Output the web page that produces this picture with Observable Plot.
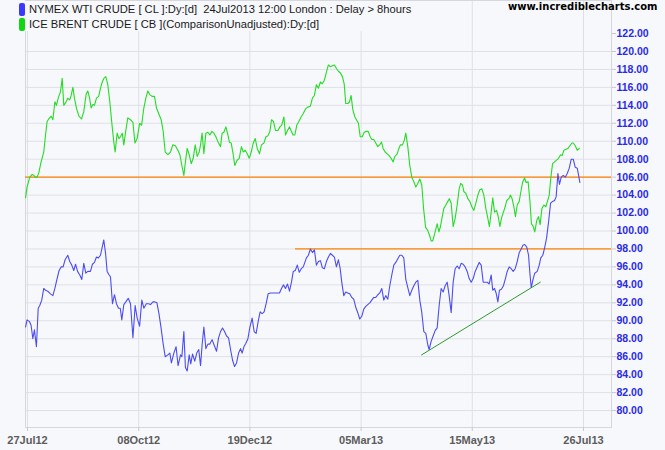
<!DOCTYPE html>
<html><head><meta charset="utf-8">
<script src="https://cdn.jsdelivr.net/npm/d3@7"></script>
<script src="https://cdn.jsdelivr.net/npm/@observablehq/plot@0.6"></script>
<style>
body{margin:0;background:#f7f8fc;}
#wrap{position:relative;width:665px;height:450px;overflow:hidden;background:#f7f8fc;}
#legend{position:absolute;left:0;top:1px;width:418px;height:30px;background:#f7f8fc;font-family:"Liberation Sans",Arial,sans-serif;font-size:11.2px;color:#1a1a1a;}
.row{position:absolute;left:19px;white-space:pre;display:flex;align-items:center;height:14px}
.sw{width:6px;height:13px;border-radius:2px;margin-right:4px;flex:none}
#brand{position:absolute;left:508px;top:1px;font:bold 10px "DejaVu Sans",sans-serif;color:#000;white-space:pre}
</style></head>
<body><div id="wrap"><div id="chart"></div>
<div id="legend"></div>
<div id="brand">www.incrediblecharts.com</div>
</div>
<script>
// ---- data (x = trading-day number from 26Jul12, y = price) ----
const legendNames = ["NYMEX WTI CRUDE [ CL ]:Dy:[d]  24Jul2013 12:00 London : Delay > 8hours",
                     "ICE BRENT CRUDE [ CB ](ComparisonUnadjusted):Dy:[d]"];
const tickBars = [1, 51, 101, 151, 201, 251];
const tickLabels = ["27Jul12", "08Oct12", "19Dec12", "05Mar13", "15May13", "26Jul13"];
const yTicks = d3.range(80, 123, 2);
const gridLevels = d3.range(80, 121, 2);
const resistance = 106;
const support = {from: 121.5, level: 98};
const trend = [[178.2, 86.2], [231.6, 94.3]];

const wti = [[0.1,89.3],[0.8,90.1],[1.9,89.9],[2.6,89.5],[3.4,88.0],[4.1,89.0],[5.0,87.1],[5.8,91.4],[6.5,91.7],[7.4,92.3],
[8.3,93.6],[9.1,93.4],[10.1,93.3],[11.3,93.0],[12.4,92.8],[13.3,93.6],[14.3,94.7],[15.2,95.6],[16.1,96.0],[17.0,96.0],
[17.9,96.8],[19.1,97.3],[20.0,96.6],[20.9,96.2],[21.8,95.6],[22.6,96.3],[23.5,95.5],[24.5,95.1],[25.4,94.6],[26.3,96.4],
[27.2,95.3],[28.1,95.5],[29.3,95.5],[30.2,96.3],[31.1,96.5],[32.0,97.1],[32.9,97.0],[33.8,97.3],[34.6,98.2],[35.3,99.0],
[36.1,97.5],[36.8,95.5],[37.7,95.1],[38.3,94.9],[39.2,91.9],[40.1,92.9],[41.0,91.9],[41.9,91.4],[42.7,91.4],[43.4,90.1],
[44.3,91.8],[45.2,92.1],[46.3,92.5],[47.3,91.9],[48.4,88.1],[49.4,91.7],[50.3,90.3],[51.4,89.4],[52.4,92.3],[53.3,91.4],
[54.4,91.9],[55.4,91.9],[56.3,91.8],[57.4,92.1],[58.3,92.1],[59.2,92.0],[60.1,90.8],[61.0,89.3],[61.9,87.6],[62.9,86.0],
[64.1,86.2],[65.0,86.4],[65.7,85.3],[66.8,86.4],[67.8,87.1],[68.7,85.0],[69.8,86.2],[70.4,86.0],[71.3,88.8],[72.0,84.8],
[72.8,84.4],[73.7,86.2],[74.4,85.2],[75.2,86.3],[76.2,85.5],[77.1,86.4],[78.0,86.8],[78.8,85.0],[79.5,87.3],[80.3,89.3],
[81.2,86.9],[82.1,87.4],[83.0,87.4],[84.0,87.9],[84.9,87.3],[86.0,86.6],[86.9,88.1],[87.8,88.8],[88.7,89.2],[89.6,88.8],
[90.5,88.3],[91.4,88.1],[92.3,86.8],[93.2,85.6],[94.1,84.9],[95.0,85.3],[95.9,86.4],[96.8,86.9],[97.5,86.4],[98.3,87.1],
[99.2,87.5],[100.1,88.0],[101.0,89.3],[102.0,90.3],[102.9,88.8],[103.8,88.6],[104.7,89.9],[105.6,91.0],[106.5,90.8],[107.4,91.0],
[108.3,91.9],[109.2,93.0],[110.3,93.1],[111.2,93.1],[112.1,93.1],[113.3,93.1],[114.3,93.1],[115.2,93.6],[116.1,94.0],[117.0,93.6],
[117.9,94.1],[118.8,93.3],[119.7,94.3],[120.5,95.5],[121.4,95.6],[122.3,96.2],[123.2,95.4],[124.1,95.8],[125.0,96.0],
[126.4,97.0],[127.3,97.3],[128.2,98.0],[129.1,97.6],[130.0,97.9],[130.9,96.2],[131.8,96.6],[132.7,96.7],[133.6,95.9],[134.5,95.8],
[135.4,96.6],[136.3,97.1],[137.2,97.5],[138.1,97.3],[139.0,97.1],[139.9,96.0],[140.8,96.8],[141.6,95.8],[142.3,94.3],[143.2,92.8],
[144.1,93.2],[145.0,93.1],[145.9,93.0],[146.8,92.6],[147.7,92.4],[148.6,91.5],[149.5,90.9],[150.4,90.2],[151.3,90.5],[152.2,91.3],
[153.1,91.6],[154.0,91.8],[154.9,92.0],[155.8,92.3],[156.7,92.6],[157.6,92.6],[158.5,92.9],[159.4,93.1],[160.3,93.6],[161.2,92.3],
[162.1,92.8],[163.0,92.4],[163.9,93.9],[164.8,95.1],[165.7,96.2],[166.6,96.5],[167.5,96.9],[168.4,97.3],[169.3,97.3],[170.2,97.0],
[171.1,94.6],[172.0,93.7],[172.9,92.8],[173.8,93.4],[174.7,93.9],[175.6,94.3],[176.5,94.5],[177.4,92.3],[178.3,90.9],[179.2,88.8],
[180.1,88.6],[181.0,87.3],[181.6,86.8],[182.5,87.7],[183.4,88.3],[184.3,88.9],[185.2,89.2],[186.1,91.7],[187.0,93.6],[187.9,93.2],
[188.8,93.9],[189.7,94.3],[190.6,92.8],[191.5,90.9],[192.4,94.3],[193.3,95.8],[194.2,96.1],[195.1,95.8],[196.0,96.4],[196.9,96.3],
[197.8,96.0],[198.7,95.5],[199.6,94.7],[200.5,94.3],[201.4,94.7],[202.3,95.5],[203.2,96.0],[204.1,96.5],[205.0,96.2],[205.9,94.3],
[206.8,94.3],[207.7,94.3],[208.6,94.1],[209.5,95.1],[210.2,93.4],[211.0,93.6],[211.7,93.1],[212.5,92.1],[213.2,93.4],[214.1,93.5],
[215.0,93.9],[215.9,94.7],[216.7,95.5],[217.6,96.0],[218.5,95.8],[219.4,95.5],[220.3,95.8],[221.2,96.6],[222.1,97.6],[223.0,98.0],
[223.7,98.4],[224.6,98.5],[225.5,98.2],[226.3,97.3],[226.9,95.3],[227.5,93.7],[228.4,94.7],[229.1,95.3],[230.2,95.5],[231.1,96.2],
[231.8,97.0],[232.7,97.3],[233.5,98.1],[234.4,99.2],[235.3,101.0],[236.2,103.1],[237.1,103.3],[238.0,103.4],[238.7,103.8],[239.5,106.4],
[240.2,105.2],[241.0,106.0],[241.9,106.2],[242.8,106.0],[243.7,106.4],[244.6,107.0],[245.5,108.0],[246.4,108.0],[247.3,107.1],[248.2,107.0],
[249.4,105.4]];

const brent = [[0.1,103.7],[0.8,104.9],[2.0,106.0],[3.1,106.3],[3.8,106.2],[4.6,106.0],[5.3,106.0],[6.1,106.5],[7.1,107.7],[8.3,108.8],
[9.1,110.7],[9.8,112.2],[10.6,112.5],[11.6,112.8],[12.4,112.4],[13.3,114.4],[14.0,114.0],[14.8,114.8],[15.8,115.5],[16.6,117.0],
[17.3,114.0],[18.2,114.3],[19.1,114.8],[20.0,114.6],[20.6,115.1],[21.4,116.0],[22.1,114.8],[23.0,113.7],[24.1,112.8],[25.3,112.5],
[26.3,113.3],[27.4,115.3],[28.1,115.6],[28.9,114.8],[29.6,113.7],[30.4,114.1],[31.1,114.0],[32.0,114.8],[33.0,115.0],[33.8,115.9],
[34.6,116.6],[35.3,117.0],[36.2,117.2],[37.1,116.3],[38.0,114.4],[39.0,111.8],[39.8,109.9],[40.4,108.8],[41.3,110.9],[42.1,110.3],
[42.8,110.5],[43.6,110.9],[44.3,109.6],[45.2,111.2],[46.1,112.6],[47.3,112.4],[48.4,112.1],[49.3,109.8],[50.3,110.3],[51.4,112.0],
[52.3,111.8],[53.3,113.7],[54.2,114.8],[55.1,115.6],[56.0,115.2],[57.0,115.0],[58.1,115.0],[59.0,113.7],[60.1,113.0],[61.1,112.4],
[62.0,111.1],[62.9,108.8],[64.1,108.5],[65.3,108.8],[66.3,109.6],[67.5,109.5],[68.6,109.0],[69.5,108.5],[70.4,107.3],[71.3,106.2],
[72.0,107.7],[72.8,109.2],[73.7,108.5],[74.6,107.5],[75.5,108.1],[76.4,109.6],[77.3,108.3],[78.2,108.8],[78.8,109.6],[79.5,110.9],
[80.3,108.6],[81.2,110.9],[82.1,111.0],[83.0,110.7],[83.9,111.1],[84.8,110.9],[85.7,110.5],[86.7,109.9],[87.8,109.4],[88.5,110.9],
[89.3,111.0],[90.2,111.6],[91.1,110.7],[91.8,109.9],[92.6,109.8],[93.5,108.5],[94.2,107.3],[95.3,107.9],[96.2,108.1],[97.2,109.4],
[98.0,108.8],[98.9,109.0],[99.8,108.6],[100.7,108.1],[101.6,108.8],[102.5,109.8],[103.4,110.3],[104.3,109.2],[105.3,108.6],[106.2,109.6],
[107.3,109.8],[108.2,110.5],[109.1,110.6],[110.0,111.1],[110.7,112.4],[111.6,112.2],[112.5,111.2],[113.6,111.2],[114.5,111.6],[115.3,111.8],
[116.3,112.7],[117.0,110.7],[117.9,111.2],[118.8,111.6],[119.5,111.2],[120.4,110.7],[121.2,110.7],[122.1,111.8],[123.0,112.2],[124.0,112.7],
[125.0,113.1],[126.0,113.6],[127.0,113.8],[128.2,113.9],[129.1,114.8],[130.0,115.1],[130.9,116.3],[131.8,115.9],[132.7,116.6],[133.5,116.4],
[134.5,116.8],[135.4,117.7],[136.3,118.5],[137.2,118.3],[138.1,118.4],[139.0,118.5],[139.9,118.1],[140.8,117.8],[141.7,117.6],[142.6,117.2],
[143.4,116.4],[144.1,114.2],[145.0,114.2],[145.8,114.4],[146.5,115.1],[147.3,113.5],[148.2,112.7],[148.9,112.4],[149.8,112.0],[150.6,110.5],
[151.5,110.5],[152.4,111.0],[153.3,111.1],[154.2,111.1],[155.1,110.5],[155.8,110.2],[156.7,110.2],[157.6,109.8],[158.5,109.4],[159.3,109.6],
[160.2,109.9],[160.9,109.2],[161.8,108.8],[162.7,108.6],[163.6,108.4],[164.5,108.1],[165.4,107.7],[166.2,108.3],[167.2,108.6],[168.0,109.2],
[168.7,109.6],[169.6,109.6],[170.4,110.1],[171.1,110.9],[172.0,109.4],[172.9,107.3],[173.8,106.0],[174.7,105.5],[175.6,104.9],[176.5,105.3],
[177.4,105.8],[178.3,105.1],[179.1,102.5],[180.0,100.4],[180.9,100.1],[181.8,99.5],[182.5,98.9],[183.2,98.9],[184.1,99.7],[185.2,100.8],
[186.0,99.9],[186.7,100.5],[187.4,101.5],[188.2,102.5],[189.1,102.9],[190.0,103.3],[190.7,103.6],[191.5,103.1],[192.4,100.5],[193.3,101.4],
[194.2,102.9],[195.1,104.7],[195.8,105.3],[196.6,105.1],[197.2,104.4],[198.1,104.2],[199.0,103.6],[199.9,103.3],[200.8,102.7],[201.7,102.3],
[202.6,103.1],[203.5,104.0],[204.4,104.6],[205.3,104.7],[206.2,104.0],[207.1,102.5],[208.0,101.4],[208.7,100.5],[209.5,102.1],[210.2,103.7],
[211.0,102.1],[211.9,102.3],[212.6,101.7],[213.4,100.5],[214.1,101.4],[215.0,102.1],[215.8,102.7],[216.5,103.4],[217.4,103.6],[218.2,104.0],
[218.9,103.6],[219.7,102.7],[220.4,101.6],[221.2,102.9],[222.1,103.3],[223.0,104.6],[223.7,105.5],[224.5,105.9],[225.2,105.4],[226.1,105.5],
[226.9,103.4],[227.6,100.8],[228.4,100.5],[229.1,99.9],[230.0,101.2],[230.8,101.6],[231.5,100.7],[232.3,102.5],[233.2,102.9],[234.1,102.7],
[234.8,103.3],[235.6,104.0],[236.3,105.9],[237.1,107.5],[238.0,107.7],[238.9,107.9],[239.8,108.1],[240.7,108.5],[241.4,108.4],[242.2,109.0],
[243.1,109.1],[244.0,109.2],[244.9,109.5],[245.8,109.8],[246.4,109.8],[247.3,109.5],[248.2,109.0],[249.1,109.2]];

const seriesColors = ["#4c4cf2", "#22dd22"];
const swatchColors = ["#3a3aff", "#10d810"];

// ---- chart ----
const xDom = [0.09, 263.6], yDom = [78.11, 125.68];
const labelOf = new Map(tickBars.map((b, i) => [b, tickLabels[i]]));
const font = "'Liberation Sans', Arial, sans-serif";

const chart = Plot.plot({
  width: 665, height: 450,
  marginLeft: 25, marginRight: 54, marginTop: 0, marginBottom: 23,
  style: {background: "transparent", fontFamily: font, overflow: "visible"},
  x: {domain: xDom, axis: null},
  y: {domain: yDom, axis: null},
  marks: [
    Plot.ruleY(gridLevels, {stroke: "#dfe0e6", strokeWidth: 1}),
    Plot.ruleX(tickBars, {y1: yDom[0], y2: yDom[1], stroke: "#dfe0e6", strokeWidth: 1}),
    Plot.frame({stroke: "#d6d7dd"}),
    Plot.axisY({anchor: "right", ticks: yTicks, tickFormat: d3.format(".2f"), tickSize: 4, tickPadding: 1,
      stroke: "#c8c9cf", fill: "#2a2ae6", fontWeight: "bold", fontSize: 10.5, label: null}),
    Plot.axisX({ticks: tickBars, tickFormat: d => labelOf.get(d), tickSize: 4, tickPadding: 5,
      stroke: "#c8c9cf", fill: "#5c5c5c", fontWeight: "bold", fontSize: 11, label: null}),
    Plot.ruleY([resistance], {stroke: "#ff8000", strokeWidth: 1.3}),
    Plot.ruleY([support.level], {x1: support.from, x2: xDom[1], stroke: "#ff8000", strokeWidth: 1.3}),
    Plot.line(trend, {x: d => d[0], y: d => d[1], stroke: "#2e9a2e", strokeWidth: 1}),
    Plot.line(brent, {x: d => d[0], y: d => d[1], stroke: seriesColors[1], strokeWidth: 1.1}),
    Plot.line(wti, {x: d => d[0], y: d => d[1], stroke: seriesColors[0], strokeWidth: 1.1})
  ]
});
document.getElementById("chart").appendChild(chart);

const legend = document.getElementById("legend");
legendNames.forEach((name, i) => {
  const row = document.createElement("div");
  row.className = "row";
  row.style.top = (i === 0 ? 1 : 16) + "px";
  row.innerHTML = `<span class="sw" style="background:${swatchColors[i]}"></span><span></span>`;
  row.lastChild.textContent = name;
  legend.appendChild(row);
});
</script>
</body></html>
